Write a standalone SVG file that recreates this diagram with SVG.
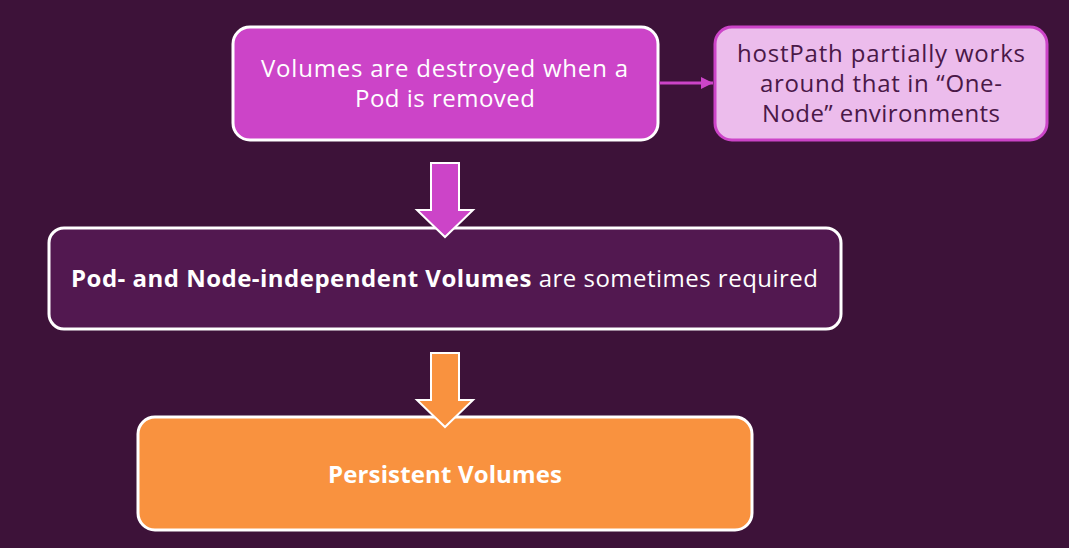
<svg xmlns="http://www.w3.org/2000/svg" width="1069" height="548" viewBox="0 0 1069 548">
<style>
.t{font-family:"Open Sans","Noto Sans","Liberation Sans",sans-serif;font-size:24px;text-anchor:middle}
.w{fill:#ffffff}
.d{fill:#4a1848}
.b{stroke:#ffffff;stroke-width:3}
.ar{stroke:#ffffff;stroke-width:2;stroke-linejoin:miter}
</style>
<defs>
<marker id="ah" viewBox="0 0 10 10" refX="10" refY="5" markerWidth="4" markerHeight="4" orient="auto" markerUnits="strokeWidth">
<path d="M0,0 L10,5 L0,10 z" fill="#cc44c8"/>
</marker>
</defs>
<rect width="1069" height="548" fill="#3d1239"/>
<g id="node-destroyed">
<rect class="b" x="233" y="27" width="425" height="113" rx="17" fill="#cc44c8"/>
<text class="t w" x="444.5" y="77" textLength="367">Volumes are destroyed when a</text>
<text class="t w" x="445" y="107" textLength="180">Pod is removed</text>
</g>
<g id="node-hostpath">
<rect x="715" y="27" width="332" height="113" rx="17" fill="#ecbcec" stroke="#cc44c8" stroke-width="3"/>
<text class="t d" x="881" y="62" textLength="288">hostPath partially works</text>
<text class="t d" x="881" y="92" textLength="242">around that in “One-</text>
<text class="t d" x="881" y="122" textLength="238">Node” environments</text>
</g>
<g id="node-independent">
<rect class="b" x="49" y="228" width="792" height="101" rx="15" fill="#521850"/>
<text class="t w" x="444.5" y="287" textLength="747"><tspan font-weight="bold">Pod- and Node-independent Volumes</tspan> are sometimes required</text>
</g>
<g id="node-persistent">
<rect class="b" x="138" y="417" width="614" height="113" rx="17" fill="#f9923f"/>
<text class="t w" x="445" y="483" font-weight="bold" textLength="234">Persistent Volumes</text>
</g>
<g id="connectors">
<line x1="659" y1="83" x2="713" y2="83" stroke="#cc44c8" stroke-width="3" marker-end="url(#ah)"/>
<path class="ar" d="M431,163 L459,163 L459,210 L473,210 L445,237 L417,210 L431,210 Z" fill="#cc44c8"/>
<path class="ar" d="M431,353 L459,353 L459,400 L473,400 L445,427 L417,400 L431,400 Z" fill="#f9923f"/>
</g>
</svg>
